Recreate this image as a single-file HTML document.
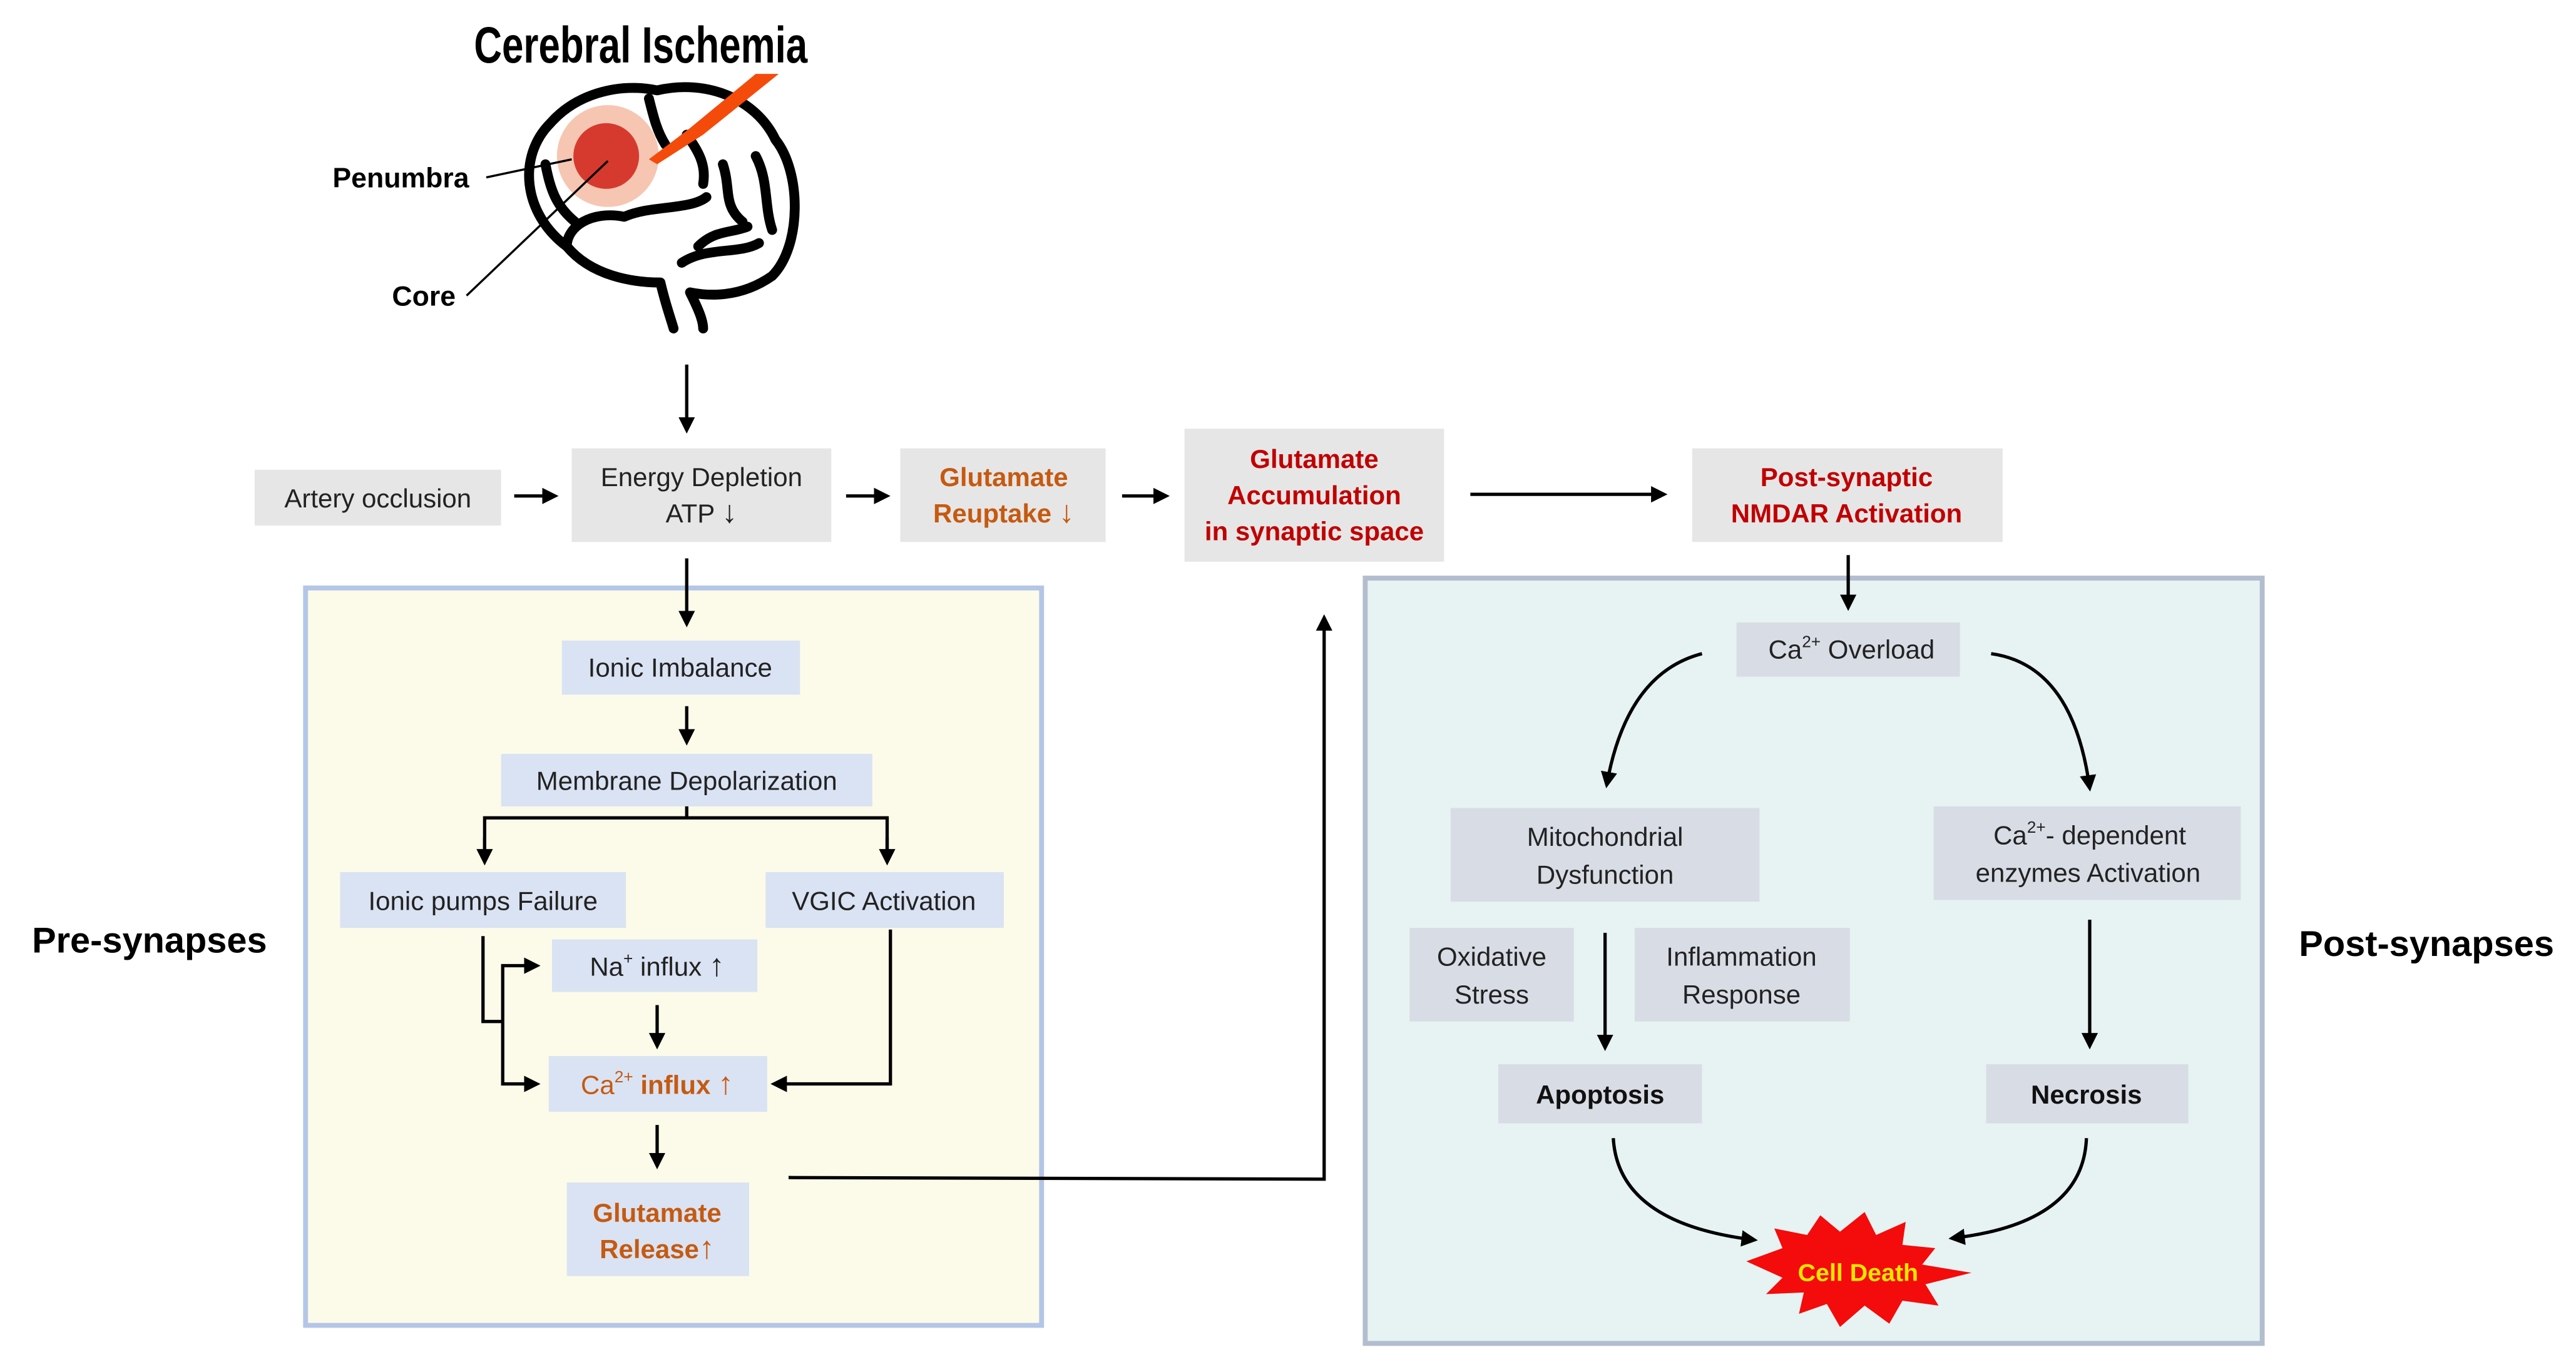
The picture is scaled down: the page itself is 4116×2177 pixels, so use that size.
<!DOCTYPE html>
<html><head><meta charset="utf-8"><style>
html,body{margin:0;padding:0;background:#fff;}
svg{display:block;}
text{font-family:"Liberation Sans",sans-serif;}
</style></head><body>
<svg width="4116" height="2177" viewBox="0 0 1568 829.3" xmlns="http://www.w3.org/2000/svg">
<defs>
<marker id="a" markerWidth="10" markerHeight="10" refX="8" refY="5" orient="auto" markerUnits="userSpaceOnUse">
<path d="M0,0 L10,5 L0,10 Z" fill="#000"/></marker>
</defs>
<rect width="1568" height="829.3" fill="#fff"/>

<!-- Title -->
<text x="390" y="38" font-size="31" font-weight="bold" text-anchor="middle" font-family="Liberation Sans Narrow, Liberation Sans, sans-serif" transform="translate(390,0) scale(0.76,1) translate(-390,0)">Cerebral Ischemia</text>

<!-- Brain -->
<g fill="none" stroke="#000" stroke-width="6" stroke-linecap="round" stroke-linejoin="round">
<path d="M345,150 C318,130 315,95 335,75 C350,58 375,50 400,55 C430,48 460,60 472,85 C488,105 488,150 470,168 C450,182 430,180 420,178 C425,188 428,195 428,200"/>
<path d="M345,150 C360,168 385,172 402,172 C405,185 408,193 410,200"/>
<path d="M345,150 C345,138 360,128 380,132 C395,125 420,128 430,120"/>
<path d="M415,160 C430,150 450,155 462,148"/>
<path d="M440,100 C445,115 440,125 452,135"/>
<path d="M460,95 C468,110 465,125 470,140"/>
<path d="M425,150 C435,140 445,142 455,138"/>
<path d="M332,100 C335,115 338,125 350,135"/>
<path d="M355,75 C362,68 370,70 372,78"/>
<path d="M395,60 C398,72 400,80 405,88"/>
<path d="M418,82 C425,92 430,100 428,112"/>
</g>
<circle cx="370" cy="95" r="31" fill="#f6c6b2"/>
<circle cx="369" cy="95" r="20" fill="#d63a2f"/>
<polygon points="474,45 460,45 420,78 395,97 400,100 428,82" fill="#f44b0b"/>
<line x1="296" y1="108" x2="348" y2="97" stroke="#000" stroke-width="1.3"/>
<line x1="284" y1="180" x2="370" y2="98" stroke="#000" stroke-width="1.3"/>
<text x="244" y="114" font-size="17" font-weight="bold" text-anchor="middle">Penumbra</text>
<text x="258" y="186" font-size="17" font-weight="bold" text-anchor="middle">Core</text>

<!-- top row -->
<line x1="418" y1="222" x2="418" y2="262" stroke="#000" stroke-width="2" marker-end="url(#a)"/>
<rect x="155" y="286" width="150" height="34" fill="#e7e6e6"/>
<text x="230" y="309" font-size="16" text-anchor="middle" fill="#222">Artery occlusion</text>
<line x1="313" y1="302" x2="338" y2="302" stroke="#000" stroke-width="2" marker-end="url(#a)"/>
<rect x="348" y="273" width="158" height="57" fill="#e7e6e6"/>
<text x="427" y="296" font-size="16" text-anchor="middle" fill="#222">Energy Depletion</text>
<text x="427" y="318" font-size="16" text-anchor="middle" fill="#222">ATP <tspan font-size="19">↓</tspan></text>
<line x1="515" y1="302" x2="540" y2="302" stroke="#000" stroke-width="2" marker-end="url(#a)"/>
<rect x="548" y="273" width="125" height="57" fill="#e7e6e6"/>
<text x="611" y="296" font-size="16" font-weight="bold" text-anchor="middle" fill="#c55a11">Glutamate</text>
<text x="611" y="318" font-size="16" font-weight="bold" text-anchor="middle" fill="#c55a11">Reuptake <tspan font-size="19">↓</tspan></text>
<line x1="683" y1="302" x2="710" y2="302" stroke="#000" stroke-width="2" marker-end="url(#a)"/>
<rect x="721" y="261" width="158" height="81" fill="#e7e6e6"/>
<text x="800" y="285" font-size="16" font-weight="bold" text-anchor="middle" fill="#c00000">Glutamate</text>
<text x="800" y="307" font-size="16" font-weight="bold" text-anchor="middle" fill="#c00000">Accumulation</text>
<text x="800" y="329" font-size="16" font-weight="bold" text-anchor="middle" fill="#c00000">in synaptic space</text>
<line x1="895" y1="301" x2="1013" y2="301" stroke="#000" stroke-width="2" marker-end="url(#a)"/>
<rect x="1030" y="273" width="189" height="57" fill="#e7e6e6"/>
<text x="1124" y="296" font-size="16" font-weight="bold" text-anchor="middle" fill="#c00000">Post-synaptic</text>
<text x="1124" y="318" font-size="16" font-weight="bold" text-anchor="middle" fill="#c00000">NMDAR Activation</text>

<!-- left panel -->
<rect x="186" y="358" width="448" height="449" fill="#fcfbe9" stroke="#b4c6e7" stroke-width="3"/>
<line x1="418" y1="340" x2="418" y2="380" stroke="#000" stroke-width="2" marker-end="url(#a)"/>
<rect x="342" y="390" width="145" height="33" fill="#dae3f3"/>
<text x="414" y="412" font-size="16" text-anchor="middle" fill="#222">Ionic Imbalance</text>
<line x1="418" y1="430" x2="418" y2="452" stroke="#000" stroke-width="2" marker-end="url(#a)"/>
<rect x="305" y="459" width="226" height="32" fill="#dae3f3"/>
<text x="418" y="481" font-size="16" text-anchor="middle" fill="#222">Membrane Depolarization</text>
<path d="M418,491 V498 H295 V524 M418,498 H540 V524" fill="none" stroke="#000" stroke-width="2"/>
<line x1="295" y1="510" x2="295" y2="525" stroke="#000" stroke-width="2" marker-end="url(#a)"/>
<line x1="540" y1="510" x2="540" y2="525" stroke="#000" stroke-width="2" marker-end="url(#a)"/>
<rect x="207" y="531" width="174" height="34" fill="#dae3f3"/>
<text x="294" y="554" font-size="16" text-anchor="middle" fill="#222">Ionic pumps Failure</text>
<rect x="466" y="531" width="145" height="34" fill="#dae3f3"/>
<text x="538" y="554" font-size="16" text-anchor="middle" fill="#222">VGIC Activation</text>
<rect x="336" y="572" width="125" height="32" fill="#dae3f3"/>
<text x="400" y="594" font-size="16" text-anchor="middle" fill="#222">Na<tspan font-size="10" dy="-7">+</tspan><tspan dy="7"> influx </tspan><tspan font-size="19">↑</tspan></text>
<path d="M294,570 V622 H306" fill="none" stroke="#000" stroke-width="2"/>
<path d="M306,622 V588 H327" fill="none" stroke="#000" stroke-width="2" marker-end="url(#a)"/>
<path d="M306,622 V660 H327" fill="none" stroke="#000" stroke-width="2" marker-end="url(#a)"/>
<line x1="400" y1="612" x2="400" y2="637" stroke="#000" stroke-width="2" marker-end="url(#a)"/>
<rect x="334" y="643" width="133" height="34" fill="#dae3f3"/>
<text x="400" y="666" font-size="16" text-anchor="middle" fill="#c55a11"><tspan>Ca</tspan><tspan font-size="10" dy="-7">2+</tspan><tspan dy="7" font-weight="bold"> influx </tspan><tspan font-size="19" font-weight="bold">↑</tspan></text>
<path d="M542,566 V660 H471" fill="none" stroke="#000" stroke-width="2" marker-end="url(#a)"/>
<line x1="400" y1="685" x2="400" y2="710" stroke="#000" stroke-width="2" marker-end="url(#a)"/>
<rect x="345" y="720" width="111" height="57" fill="#dae3f3"/>
<text x="400" y="744" font-size="16" font-weight="bold" text-anchor="middle" fill="#c55a11">Glutamate</text>
<text x="400" y="766" font-size="16" font-weight="bold" text-anchor="middle" fill="#c55a11">Release<tspan font-size="19">↑</tspan></text>
<path d="M480,717 L806,718 V376" fill="none" stroke="#000" stroke-width="2" marker-end="url(#a)"/>

<text x="91" y="580" font-size="22" font-weight="bold" text-anchor="middle">Pre-synapses</text>
<text x="1477" y="582" font-size="22" font-weight="bold" text-anchor="middle">Post-synapses</text>

<!-- right panel -->
<rect x="831" y="352" width="546" height="466" fill="#e7f2f2" stroke="#b2bdcf" stroke-width="3"/>
<line x1="1125" y1="338" x2="1125" y2="370" stroke="#000" stroke-width="2" marker-end="url(#a)"/>
<rect x="1057" y="379" width="136" height="33" fill="#d8dde5"/>
<text x="1127" y="401" font-size="16" text-anchor="middle" fill="#222">Ca<tspan font-size="10" dy="-7">2+</tspan><tspan dy="7"> Overload</tspan></text>
<path d="M1036,398 Q990,410 978,478" fill="none" stroke="#000" stroke-width="2" marker-end="url(#a)"/>
<path d="M1212,398 Q1262,405 1272,480" fill="none" stroke="#000" stroke-width="2" marker-end="url(#a)"/>
<rect x="883" y="492" width="188" height="57" fill="#d8dde5"/>
<text x="977" y="515" font-size="16" text-anchor="middle" fill="#222">Mitochondrial</text>
<text x="977" y="538" font-size="16" text-anchor="middle" fill="#222">Dysfunction</text>
<rect x="1177" y="491" width="187" height="57" fill="#d8dde5"/>
<text x="1272" y="514" font-size="16" text-anchor="middle" fill="#222">Ca<tspan font-size="10" dy="-7">2+</tspan><tspan dy="7">- dependent</tspan></text>
<text x="1271" y="537" font-size="16" text-anchor="middle" fill="#222">enzymes Activation</text>
<rect x="858" y="565" width="100" height="57" fill="#d8dde5"/>
<text x="908" y="588" font-size="16" text-anchor="middle" fill="#222">Oxidative</text>
<text x="908" y="611" font-size="16" text-anchor="middle" fill="#222">Stress</text>
<rect x="995" y="565" width="131" height="57" fill="#d8dde5"/>
<text x="1060" y="588" font-size="16" text-anchor="middle" fill="#222">Inflammation</text>
<text x="1060" y="611" font-size="16" text-anchor="middle" fill="#222">Response</text>
<line x1="977" y1="568" x2="977" y2="638" stroke="#000" stroke-width="2" marker-end="url(#a)"/>
<line x1="1272" y1="560" x2="1272" y2="637" stroke="#000" stroke-width="2" marker-end="url(#a)"/>
<rect x="912" y="648" width="124" height="36" fill="#d8dde5"/>
<text x="974" y="672" font-size="16" font-weight="bold" text-anchor="middle" fill="#111">Apoptosis</text>
<rect x="1209" y="648" width="123" height="36" fill="#d8dde5"/>
<text x="1270" y="672" font-size="16" font-weight="bold" text-anchor="middle" fill="#111">Necrosis</text>
<path d="M982,693 Q985,745 1068,755" fill="none" stroke="#000" stroke-width="2" marker-end="url(#a)"/>
<path d="M1270,693 Q1268,745 1188,754" fill="none" stroke="#000" stroke-width="2" marker-end="url(#a)"/>
<polygon fill="#f40b0b" points="1063,768 1085,760 1080,748 1100,752 1108,740 1120,750 1135,738 1142,752 1160,744 1158,758 1178,760 1170,770 1200,775 1172,782 1180,795 1158,792 1150,806 1135,795 1120,808 1112,794 1095,800 1098,787 1075,788 1085,778"/>
<text x="1131" y="780" font-size="15" font-weight="bold" text-anchor="middle" fill="#ffe600">Cell Death</text>
</svg>
</body></html>
